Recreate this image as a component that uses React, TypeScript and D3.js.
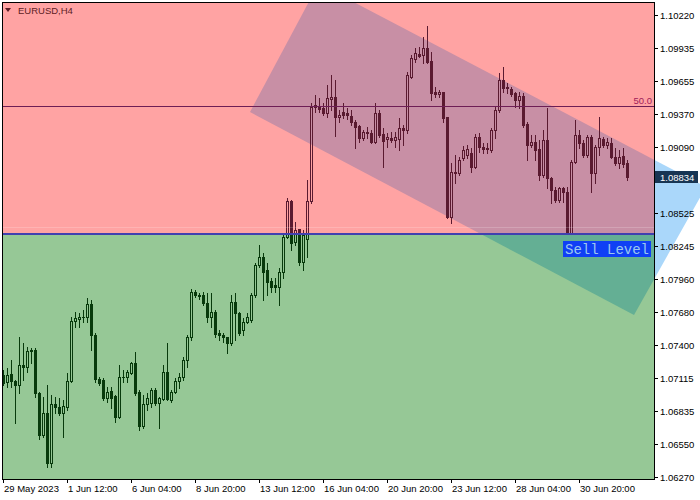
import React from "react";
import * as d3 from "d3";

// H4 candles, EURUSD
const opens = [
  1.0714, 1.07083, 1.07146, 1.07089, 1.07055, 1.07226, 1.07206, 1.07348, 1.07354, 1.06989,
  1.06627, 1.06818, 1.06384, 1.06892, 1.06869, 1.06812, 1.06869, 1.07089, 1.07602, 1.07616,
  1.07634, 1.07634, 1.07748, 1.07482, 1.07109, 1.07097, 1.06941, 1.07003, 1.0696, 1.06784,
  1.0712, 1.0712, 1.0716, 1.0724, 1.06998, 1.06704, 1.06892, 1.06898, 1.07012, 1.06903,
  1.06935, 1.07163, 1.06926, 1.06998, 1.07089, 1.07126, 1.07269, 1.07462, 1.07853, 1.07825,
  1.07825, 1.07753, 1.07634, 1.07682, 1.07497, 1.07482, 1.07462, 1.07411, 1.07768, 1.07667,
  1.07525, 1.07596, 1.0761, 1.07824, 1.08081, 1.08152, 1.08038, 1.07944, 1.0791, 1.07896,
  1.08024, 1.08323, 1.08631, 1.08281, 1.08389, 1.0811, 1.083, 1.08631, 1.09436, 1.09436,
  1.09421, 1.09384, 1.09498, 1.09521, 1.09344, 1.09393, 1.09379, 1.09356, 1.09307, 1.0927,
  1.09165, 1.09222, 1.09213, 1.09136, 1.09384, 1.09202, 1.09156, 1.09165, 1.0915, 1.09156,
  1.0925, 1.09236, 1.09692, 1.09841, 1.09883, 1.09878, 1.09935, 1.09826, 1.09558, 1.09544,
  1.09558, 1.09344, 1.08495, 1.0888, 1.08865, 1.08994, 1.09022, 1.09037, 1.08917, 1.09173,
  1.09088, 1.09071, 1.09065, 1.09236, 1.09407, 1.09664, 1.09607, 1.09584, 1.0955, 1.09493,
  1.09527, 1.09287, 1.09108, 1.09136, 1.09071, 1.08851, 1.0915, 1.08823, 1.08723, 1.08637,
  1.08737, 1.08708, 1.08352, 1.08965, 1.09193, 1.09122, 1.09022, 1.09179, 1.08865, 1.09093,
  1.09156, 1.09108, 1.09122, 1.09008, 1.08951, 1.09014, 1.08951,
];
const highs = [
  1.07183, 1.07197, 1.07269, 1.07097, 1.07468, 1.07411, 1.07383, 1.07368, 1.07368, 1.06998,
  1.06955, 1.07055, 1.06969, 1.06955, 1.06941, 1.06926, 1.07154, 1.07639, 1.07682, 1.07668,
  1.07696, 1.07796, 1.07782, 1.07497, 1.07126, 1.07112, 1.0704, 1.0704, 1.06969, 1.07226,
  1.07183, 1.07183, 1.07254, 1.0734, 1.07012, 1.06969, 1.06983, 1.07026, 1.07026, 1.06955,
  1.07226, 1.07411, 1.07012, 1.07112, 1.07154, 1.07297, 1.07482, 1.07873, 1.07867, 1.07845,
  1.07853, 1.07839, 1.07845, 1.07696, 1.07525, 1.07497, 1.07468, 1.07825, 1.07839, 1.07682,
  1.07625, 1.07667, 1.07839, 1.08095, 1.08252, 1.08181, 1.08095, 1.07967, 1.07967, 1.08052,
  1.08352, 1.08652, 1.08637, 1.08452, 1.08389, 1.08381, 1.08808, 1.09464, 1.09536, 1.09507,
  1.09464, 1.09621, 1.09707, 1.09664, 1.09407, 1.09464, 1.09421, 1.09407, 1.09322, 1.09279,
  1.09236, 1.09265, 1.09236, 1.09464, 1.09407, 1.0925, 1.09208, 1.09222, 1.09222, 1.09336,
  1.09279, 1.09735, 1.09878, 1.09935, 1.09949, 1.10035, 1.10129, 1.09906, 1.09607, 1.09578,
  1.09564, 1.0935, 1.08951, 1.09022, 1.09008, 1.09099, 1.09108, 1.09079, 1.09202, 1.09208,
  1.09122, 1.09122, 1.0925, 1.09436, 1.09721, 1.09778, 1.09635, 1.09607, 1.09564, 1.09564,
  1.0955, 1.09307, 1.09193, 1.09193, 1.0915, 1.09236, 1.09421, 1.08837, 1.08751, 1.08751,
  1.08751, 1.08751, 1.08979, 1.09322, 1.09236, 1.0915, 1.09193, 1.09193, 1.09108, 1.0935,
  1.09179, 1.09165, 1.09165, 1.09079, 1.09065, 1.09079, 1.08979,
];
const lows = [
  1.07055, 1.0704, 1.0704, 1.06727, 1.06983, 1.07097, 1.07169, 1.0724, 1.06955, 1.0659,
  1.06612, 1.06356, 1.06356, 1.06812, 1.06798, 1.06612, 1.06841, 1.07083, 1.07554, 1.07554,
  1.07596, 1.07596, 1.07354, 1.07083, 1.07055, 1.06926, 1.06912, 1.06855, 1.06741, 1.06769,
  1.07083, 1.07083, 1.07149, 1.06969, 1.06669, 1.06684, 1.06841, 1.06869, 1.06884, 1.06684,
  1.06926, 1.06926, 1.06912, 1.06983, 1.07026, 1.07097, 1.07211, 1.0744, 1.0781, 1.07788,
  1.07739, 1.07596, 1.07554, 1.07468, 1.0744, 1.07425, 1.07331, 1.07397, 1.0744, 1.07482,
  1.07482, 1.07582, 1.07596, 1.0781, 1.08067, 1.07782, 1.07824, 1.07853, 1.07853, 1.07739,
  1.07967, 1.0831, 1.0821, 1.08252, 1.08081, 1.08039, 1.08152, 1.08612, 1.09393, 1.09393,
  1.09364, 1.0935, 1.09407, 1.09185, 1.09307, 1.09336, 1.09327, 1.09279, 1.09079, 1.09136,
  1.0915, 1.09165, 1.09122, 1.09122, 1.09179, 1.08922, 1.09093, 1.09136, 1.09088, 1.09065,
  1.09108, 1.09208, 1.09678, 1.09821, 1.09863, 1.09806, 1.09806, 1.09493, 1.09521, 1.09521,
  1.09307, 1.0848, 1.08437, 1.0878, 1.08851, 1.08979, 1.08994, 1.0888, 1.08908, 1.09051,
  1.09042, 1.09037, 1.09051, 1.09165, 1.09393, 1.09564, 1.0955, 1.09527, 1.09436, 1.09421,
  1.09265, 1.08979, 1.09093, 1.08979, 1.08808, 1.08837, 1.08737, 1.08609, 1.08623, 1.08623,
  1.08623, 1.08346, 1.08346, 1.08951, 1.09079, 1.09008, 1.09008, 1.08708, 1.0878, 1.09022,
  1.09093, 1.09079, 1.08994, 1.08937, 1.08908, 1.08922, 1.08808,
];
const closes = [
  1.07069, 1.0714, 1.07089, 1.07055, 1.07226, 1.07206, 1.07348, 1.07354, 1.06983, 1.06627,
  1.06812, 1.06384, 1.06892, 1.06869, 1.06812, 1.06875, 1.07089, 1.07602, 1.07625, 1.07634,
  1.07639, 1.07748, 1.07482, 1.07103, 1.07075, 1.06941, 1.06998, 1.06941, 1.06784, 1.0712,
  1.07126, 1.07169, 1.0724, 1.06989, 1.06704, 1.06892, 1.06941, 1.07012, 1.06898, 1.06941,
  1.07163, 1.06935, 1.06998, 1.07089, 1.07126, 1.07269, 1.07462, 1.07853, 1.07825, 1.07816,
  1.07753, 1.07639, 1.07682, 1.07491, 1.07482, 1.07468, 1.07411, 1.07768, 1.07668, 1.07496,
  1.07596, 1.07639, 1.07824, 1.08081, 1.08152, 1.08024, 1.07938, 1.07896, 1.07896, 1.08024,
  1.08323, 1.08631, 1.08267, 1.08381, 1.0811, 1.08338, 1.08631, 1.09436, 1.0945, 1.09413,
  1.09384, 1.09507, 1.09516, 1.09344, 1.09364, 1.09364, 1.09364, 1.09307, 1.09265, 1.09165,
  1.09222, 1.09208, 1.09136, 1.09384, 1.09193, 1.09145, 1.09173, 1.0915, 1.09173, 1.0925,
  1.09236, 1.09707, 1.09855, 1.09898, 1.09872, 1.09935, 1.09821, 1.0955, 1.09544, 1.09558,
  1.09336, 1.08495, 1.0888, 1.08865, 1.08979, 1.09065, 1.09071, 1.08917, 1.09173, 1.09088,
  1.09071, 1.09079, 1.09236, 1.09407, 1.09664, 1.09593, 1.09593, 1.09541, 1.09493, 1.09527,
  1.09279, 1.09108, 1.09136, 1.09065, 1.08851, 1.0915, 1.08823, 1.08723, 1.08637, 1.08737,
  1.08708, 1.08352, 1.08965, 1.09193, 1.09122, 1.09022, 1.09179, 1.08865, 1.09093, 1.09165,
  1.09108, 1.09136, 1.09008, 1.08951, 1.09008, 1.08945, 1.08834,
];

const priceTicks = [
  1.1022, 1.09935, 1.09655, 1.0937, 1.0909, 1.08525, 1.08245, 1.0796, 1.0768, 1.074,
  1.07115, 1.06835, 1.0655, 1.0627,
];
const timeLabels = [
  "29 May 2023", "1 Jun 12:00", "6 Jun 04:00", "8 Jun 20:00", "13 Jun 12:00",
  "16 Jun 04:00", "20 Jun 20:00", "23 Jun 12:00", "28 Jun 04:00", "30 Jun 20:00",
];
const timeLabelBars = [0, 16, 32, 48, 64, 80, 96, 112, 128, 144];

const sellLevel = 1.08346;
const midLevel = 1.09441;
const lastPrice = 1.08834;
// channel corners: bar index / price
const channelBars = [61.75, 78.9, 175.75, 157.75];
const channelPrices = [1.0939, 1.10488, 1.08749, 1.07654];

const W = 700;
const H = 500;
const L = 2;
const T = 2;
const R = 654;
const B = 479;
const font = "'Liberation Sans', Arial, sans-serif";

const App: React.FC = () => {
  const x = d3.scaleLinear().domain([0, opens.length - 1]).range([3, 627]);
  const y = d3.scaleLinear().domain([1.06251, 1.10331]).range([B, T]);
  const sy = (v: number) => Math.round(y(v));
  const sellY = sy(sellLevel);
  const midY = sy(midLevel);

  const chPts: [number, number][] = channelBars.map((b, i) => [x(b), y(channelPrices[i])]);
  const chPath = d3.line()(chPts) + "Z";

  const candles = (color: string) =>
    opens.map((o, i) => {
      const c = closes[i];
      const cx = Math.round(x(i));
      const hy = sy(highs[i]);
      const ly = sy(lows[i]);
      const bull = c > o;
      const top = sy(Math.max(o, c));
      const bot = sy(Math.min(o, c));
      if (bot - top < 1) {
        return (
          <g key={i}>
            <rect x={cx} y={hy} width={1} height={ly - hy + 1} fill={color} />
            <rect x={cx - 1} y={top} width={3} height={1} fill={color} />
          </g>
        );
      }
      if (bull) {
        return (
          <g key={i}>
            <rect x={cx} y={hy} width={1} height={Math.max(0, top - hy)} fill={color} />
            <rect x={cx} y={bot} width={1} height={Math.max(0, ly - bot + 1)} fill={color} />
            <rect x={cx - 0.5} y={top + 0.5} width={2} height={bot - top} fill="none" stroke={color} strokeWidth={1} />
          </g>
        );
      }
      return (
        <g key={i}>
          <rect x={cx} y={hy} width={1} height={ly - hy + 1} fill={color} />
          <rect x={cx - 1} y={top} width={3} height={bot - top + 1} fill={color} />
        </g>
      );
    });

  return (
    <svg width={W} height={H} style={{ position: "absolute", left: 0, top: 0, background: "#fff" }}>
      <defs>
        <clipPath id="zoneTop">
          <rect x={L} y={T} width={R - L} height={sellY - T} />
        </clipPath>
        <clipPath id="zoneBottom">
          <rect x={L} y={sellY} width={R - L} height={B - sellY} />
        </clipPath>
        <clipPath id="zoneOut">
          <rect x={R} y={0} width={W - R} height={H} />
        </clipPath>
      </defs>
      <rect x={0} y={0} width={W} height={H} fill="#fff" />

      {/* buy / sell zones */}
      <rect x={L} y={T} width={R - L} height={sellY - T} fill="#ffa3a3" />
      <rect x={L} y={sellY} width={R - L} height={B - sellY} fill="#96c896" />

      {/* channel */}
      <path d={chPath} fill="#c88fa5" clipPath="url(#zoneTop)" />
      <path d={chPath} fill="#64af94" clipPath="url(#zoneBottom)" />
      <path d={chPath} fill="#aad7fa" clipPath="url(#zoneOut)" />

      <g shapeRendering="crispEdges">
        <g clipPath="url(#zoneTop)">{candles("#5a1a30")}</g>
        <g clipPath="url(#zoneBottom)">{candles("#083a0c")}</g>
      </g>

      {/* levels */}
      <line x1={L} x2={R} y1={sellY - 6.5} y2={sellY - 6.5} stroke="#ffffff" strokeOpacity={0.18} />
      <line x1={L} x2={R} y1={midY + 0.5} y2={midY + 0.5} stroke="#6e1e55" strokeWidth={1} />
      <text x={652} y={midY - 2} textAnchor="end" fontFamily={font} fontSize={9.5} fill="#a0205a">
        50.0
      </text>
      <rect x={L} y={sellY - 1} width={R - L} height={2} fill="#4040b0" />

      <rect x={563} y={241} width={88} height={16} fill="#1040f5" />
      <text x={565} y={254} fontFamily="'Liberation Mono', 'Courier New', monospace" fontSize={14} fill="#9cc8f0">
        Sell Level
      </text>

      {/* frame */}
      <rect x={L + 0.5} y={T + 0.5} width={R - L} height={B - T} fill="none" stroke="#000" shapeRendering="crispEdges" />

      {/* price axis */}
      {priceTicks.map((p) => (
        <g key={p}>
          <line x1={R} x2={R + 4} y1={sy(p) + 0.5} y2={sy(p) + 0.5} stroke="#000" />
          <text x={660} y={sy(p) + 4} fontFamily={font} fontSize={9.5} fill="#000">
            {p.toFixed(5)}
          </text>
        </g>
      ))}
      <rect x={655} y={sy(lastPrice) - 6} width={43} height={12} fill="#173553" />
      <text x={660} y={sy(lastPrice) + 4} fontFamily={font} fontSize={9.5} fill="#fff">
        {lastPrice.toFixed(5)}
      </text>

      {/* time axis */}
      {timeLabels.map((t, i) => {
        const tx = Math.round(x(timeLabelBars[i]));
        return (
          <g key={t}>
            <line x1={tx + 0.5} x2={tx + 0.5} y1={B} y2={B + 4} stroke="#000" />
            <text x={tx + 1} y={492} fontFamily={font} fontSize={9.5} fill="#000">
              {t}
            </text>
          </g>
        );
      })}

      {/* symbol caption */}
      <path d="M5,8 L11,8 L8,12 Z" fill="#5a1a24" />
      <text x={18} y={14} fontFamily={font} fontSize={9.5} fill="#5c1c24">
        EURUSD,H4
      </text>
    </svg>
  );
};

export default App;
